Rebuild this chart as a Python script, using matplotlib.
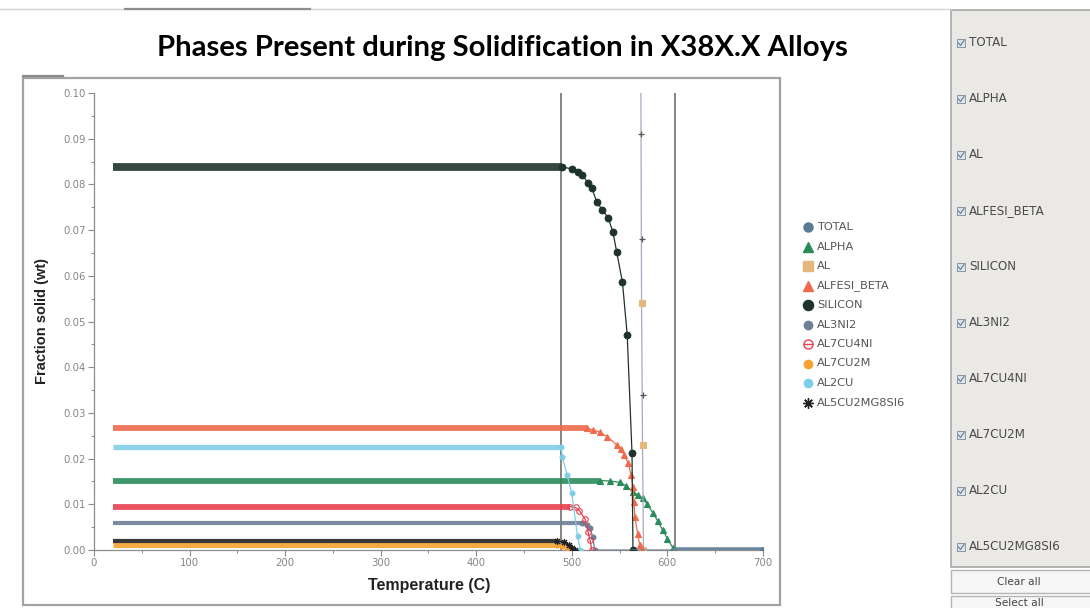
import matplotlib
matplotlib.use("Agg")
import matplotlib.pyplot as plt
from matplotlib.patches import Rectangle
from matplotlib.ticker import MultipleLocator, FormatStrFormatter

W, H = 1090, 608
TITLE = "Phases Present during Solidification in X38X.X Alloys"

# Scheil solidification, temperature (C) vs phase amount (weight fraction).
# The first two points of each phase are its constant low-temperature amount.
total_t = [608, 700]
total_v = [0.0, 0.0]

alpha_t = [20, 529, 540, 550, 557, 564, 569, 574, 579, 585, 590, 595, 600, 606, 608]
alpha_v = [0.0152, 0.0152, 0.0151, 0.0148, 0.0140, 0.0127, 0.0121, 0.0114,
           0.0100, 0.0081, 0.0063, 0.0044, 0.0025, 0.0004, 0.0]

al_t = [575, 574, 573, 572]
al_v = [0.0, 0.0230, 0.0540, 0.1200]

alfesi_t = [20, 516, 522, 529, 537, 547, 551, 555, 559, 562, 564, 565, 566, 569, 571, 573]
alfesi_v = [0.0266, 0.0266, 0.0263, 0.0258, 0.0248, 0.0230, 0.0222, 0.0207,
            0.0190, 0.0165, 0.0138, 0.0105, 0.0072, 0.0035, 0.0012, 0.0]

silicon_t = [20, 490, 500, 506, 511, 517, 521, 526, 532, 538, 543, 547, 553, 558, 563, 564]
silicon_v = [0.0838, 0.0838, 0.0834, 0.0828, 0.0821, 0.0803, 0.0792, 0.0762,
             0.0744, 0.0727, 0.0696, 0.0652, 0.0586, 0.0470, 0.0212, 0.0]

al3ni2_t = [20, 511, 516, 519, 522, 524, 608]
al3ni2_v = [0.0058, 0.0058, 0.0055, 0.0049, 0.0028, 0.0, 0.0]

al7cu4ni_t = [20, 498, 504, 508, 514, 517, 519, 521]
al7cu4ni_v = [0.0095, 0.0095, 0.0093, 0.0086, 0.0067, 0.0040, 0.0022, 0.0]

al7cu2m_t = [20, 485, 490, 495, 499]
al7cu2m_v = [0.0011, 0.0011, 0.0009, 0.0005, 0.0]

al2cu_t = [20, 489, 490, 495, 500, 506, 509]
al2cu_v = [0.0225, 0.0225, 0.0204, 0.0165, 0.0124, 0.0030, 0.0]

q_t = [20, 485, 492, 497, 500, 503]
q_v = [0.0020, 0.0020, 0.0017, 0.0010, 0.0004, 0.0]
# Q phase points logged at the Al-Si arrest
q_arrest_t = [574, 573, 572]
q_arrest_v = [0.0340, 0.0680, 0.0910]

# liquidus and final eutectic arrests
arrest_t = [489, 608]

phase_names = ["TOTAL", "ALPHA", "AL", "ALFESI_BETA", "SILICON", "AL3NI2",
               "AL7CU4NI", "AL7CU2M", "AL2CU", "AL5CU2MG8SI6"]
phase_t = [total_t, alpha_t, al_t, alfesi_t, silicon_t, al3ni2_t,
           al7cu4ni_t, al7cu2m_t, al2cu_t, q_t]
phase_v = [total_v, alpha_v, al_v, alfesi_v, silicon_v, al3ni2_v,
           al7cu4ni_v, al7cu2m_v, al2cu_v, q_v]
colors = ["#5b7a93", "#2b8c5b", "#e3b77d", "#ee6b4d", "#1e332c", "#6e7f95",
          "#e8404f", "#f4a331", "#80cde8", "#222222"]
markers = ["o", "^", "s", "^", "o", "o", "o", "o", "o", (8, 2, 0)]
band = [4.0, 4.2, 0, 4.2, 5.6, 3.0, 4.2, 3.6, 3.8, 3.0]
msize = [4, 4, 5, 4, 4.8, 3.5, 4, 3.5, 3.5, 5]
draw_order = [0, 5, 7, 9, 6, 1, 8, 3, 2, 4]


def px(x, y):
    return x / W, 1 - y / H


fig = plt.figure(figsize=(W / 100, H / 100), dpi=100)
fig.patch.set_facecolor("white")

ui = fig.add_axes([0, 0, 1, 1], zorder=0)
ui.set_xlim(0, W)
ui.set_ylim(H, 0)
ui.axis("off")

# window chrome: top edge and plot frame
ui.plot([0, 951], [9, 9], color="#d4d4d4", lw=1)
ui.plot([125, 310], [9, 9], color="#8e8e8e", lw=1.6)
ui.add_patch(Rectangle((23, 78), 757, 527, fill=False, ec="#a3a3a3", lw=1.6))
ui.plot([23, 63], [76, 76], color="#8a8a8a", lw=1.6)

# phase check list on the right
ui.add_patch(Rectangle((951, 10), 150, 557, fc="#ebe9e6", ec="#a8a8a8", lw=1.2))
for i, name in enumerate(phase_names):
    y = 43 + 56 * i
    ui.add_patch(Rectangle((957, y - 4), 8, 8, fc="#dbe3ec", ec="#8796a8", lw=0.7))
    ui.plot([958.5, 960.5, 964], [y, y + 2.5, y - 2.5], color="#5b6b7c", lw=0.7)
    ui.text(969, y, name, fontsize=8.6, color="#4a4a4a", va="center", ha="left",
            family="DejaVu Sans")
for y0, ty, label in [(570, 582, "Clear all"), (596, 602.5, "Select all")]:
    ui.add_patch(Rectangle((951, y0), 150, 23, fc="#f6f6f6", ec="#b4b4b4", lw=1))
    ui.text(1019, ty, label, fontsize=7.6, color="#444444", ha="center",
            va="center", family="DejaVu Sans")

# legend next to the plot
for i, name in enumerate(phase_names):
    y = 227 + 19.5 * i
    filled = name != "AL7CU4NI"
    ui.plot([808], [y], marker=markers[i], ms=msize[i] + 2.5, color=colors[i],
            mfc=colors[i] if filled else "none", mec=colors[i], mew=1.0, ls="none")
    if not filled:
        ui.plot([808], [y], marker="_", ms=7, color=colors[i], mew=1.0)
    ui.text(817, y, name, fontsize=8.2, color="#555555", va="center", ha="left",
            family="DejaVu Sans")

# data axes
x0, x1 = 94, 763.4
y_top, y_bot = 93, 550
ax = fig.add_axes([x0 / W, 1 - y_bot / H, (x1 - x0) / W, (y_bot - y_top) / H], zorder=2)
ax.patch.set_alpha(0)
ax.set_xlim(0, 700.5)
ax.set_ylim(0, 0.10)

for t in arrest_t:
    ax.plot([t, t], [0, 0.10], color="#6f6f6f", lw=1.2, zorder=2)

for i in draw_order:
    t, v, c = phase_t[i], phase_v[i], colors[i]
    filled = phase_names[i] != "AL7CU4NI"
    if band[i] > 0:
        ax.plot(t[:2], v[:2], color=c, lw=band[i], solid_capstyle="butt", alpha=0.9,
                zorder=3 + i * 0.1)
        rest_t, rest_v = t[1:], v[1:]
    else:
        rest_t, rest_v = t, v
    line_c = "#a9a9c2" if phase_names[i] == "AL" else c
    ax.plot(rest_t, rest_v, color=line_c, lw=0.9, zorder=3 + i * 0.1)
    ax.plot(rest_t, rest_v, ls="none", marker=markers[i], ms=msize[i],
            mfc=c if filled else "none", mec=c, mew=0.8, zorder=3.05 + i * 0.1)

ax.plot(q_arrest_t, q_arrest_v, ls="none", marker="+", ms=5, color="#555555",
        mew=0.9, zorder=4)

for side in ["top", "right"]:
    ax.spines[side].set_visible(False)
for side in ["left", "bottom"]:
    ax.spines[side].set_color("#8c8c8c")
    ax.spines[side].set_linewidth(0.9)

ax.xaxis.set_major_locator(MultipleLocator(100))
ax.xaxis.set_minor_locator(MultipleLocator(50))
ax.yaxis.set_major_locator(MultipleLocator(0.01))
ax.yaxis.set_minor_locator(MultipleLocator(0.005))
ax.yaxis.set_major_formatter(FormatStrFormatter("%.2f"))
ax.tick_params(which="major", direction="out", length=4, width=0.8, color="#8c8c8c",
               labelsize=7.3, labelcolor="#858585", pad=2)
ax.tick_params(which="minor", direction="out", length=2, width=0.7, color="#8c8c8c")

ax.set_xlabel("Temperature (C)", fontsize=11.5, fontweight="bold", color="#222222",
              family="Liberation Sans", labelpad=7)
ax.set_ylabel("Fraction solid (wt)", fontsize=10.5, fontweight="bold", color="#222222",
              family="Liberation Sans", labelpad=10)

title = fig.text(*px(502, 48), TITLE, ha="center", va="center", fontsize=18,
                 fontweight="bold", color="black", family=["Lato", "DejaVu Sans"])
fig.canvas.draw()
tw = title.get_window_extent().width
title.set_fontsize(18 * 692 / tw)

fig.savefig("out.png", dpi=100)
